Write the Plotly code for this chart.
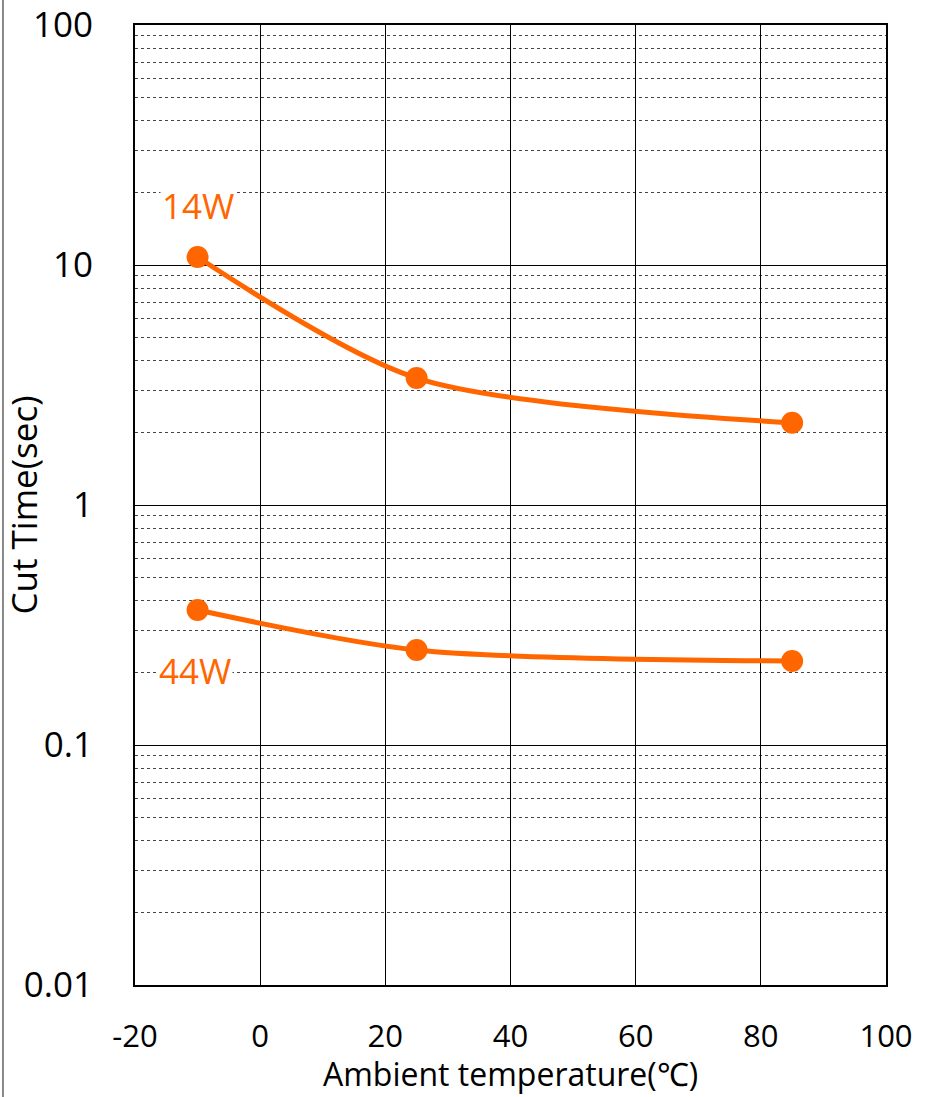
import plotly.graph_objects as go

temps = [-10, 25, 85]
cut_14w = [10.8, 3.38, 2.2]
cut_44w = [0.365, 0.249, 0.224]
series_labels = ["14W", "44W"]
x_ticks = [-20, 0, 20, 40, 60, 80, 100]
y_ticks = [0.01, 0.1, 1, 10, 100]
y_tick_text = ["0.01", "0.1", "1", "10", "100"]

orange = "#FF6600"
FONT = "Open Sans"
FS = 35

fig = go.Figure()
for vals, name in zip([cut_14w, cut_44w], series_labels):
    fig.add_trace(go.Scatter(
        x=temps, y=vals, mode="lines+markers", name=name,
        line=dict(color=orange, width=5, shape="spline", smoothing=0.8),
        marker=dict(color=orange, size=22),
        showlegend=False,
    ))

fig.add_annotation(x=-10, y=1.25, text=series_labels[0], showarrow=False,
                   font=dict(size=FS, color=orange, family=FONT), bgcolor="white")
fig.add_annotation(x=-10.4, y=-0.69, text=series_labels[1], showarrow=False,
                   font=dict(size=FS, color=orange, family=FONT), bgcolor="white")

# x-axis title placed as annotation just below tick labels
fig.add_annotation(xref="paper", yref="paper", x=0.5, y=-0.092, yanchor="middle",
                   text="Ambient temperature(℃)", showarrow=False,
                   font=dict(size=32, family=FONT, color="black"))

# outer left frame line
fig.add_shape(type="line", xref="paper", yref="paper", x0=-0.1758, x1=-0.1758,
              y0=-0.2, y1=1.05, line=dict(color="#888888", width=2))

fig.update_xaxes(
    range=[-20, 100], tickvals=x_ticks, ticktext=[str(v) for v in x_ticks],
    showgrid=True, gridcolor="black", gridwidth=1, zeroline=False,
    showline=True, linecolor="black", linewidth=2, mirror=True,
    ticks="", ticklabelstandoff=23, automargin=False,
    tickfont=dict(size=31, family=FONT, color="black"),
)
fig.update_yaxes(
    type="log", range=[-2, 2], tickvals=y_ticks, ticktext=y_tick_text,
    showgrid=True, gridcolor="black", gridwidth=1, zeroline=False,
    showline=True, linecolor="black", linewidth=2, mirror=True,
    ticks="", ticklabelstandoff=33, automargin=False,
    tickfont=dict(size=FS, family=FONT, color="black"),
    minor=dict(showgrid=True, gridcolor="#444444", griddash="dot", gridwidth=1,
               tickvals=[m * 10 ** e for e in range(-2, 2) for m in range(2, 10)]),
    title=dict(text="Cut Time(sec)", font=dict(size=FS, family=FONT, color="black"), standoff=0),
)
fig.update_layout(
    width=927, height=1097,
    margin=dict(l=135, r=41, t=25, b=112),
    plot_bgcolor="white", paper_bgcolor="white",
    font=dict(family=FONT),
)
fig.write_html("out.html", config={"displayModeBar": False},
               post_script="document.body.style.margin='0';")
